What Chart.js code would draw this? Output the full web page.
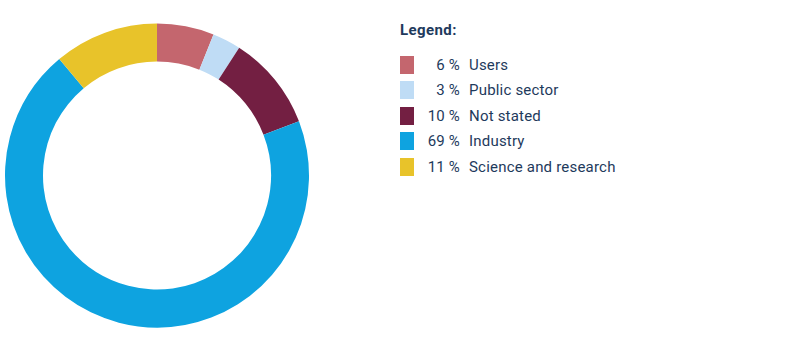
<!DOCTYPE html>
<html>
<head>
<meta charset="utf-8">
<script src="https://cdn.jsdelivr.net/npm/chart.js@4/dist/chart.umd.min.js"></script>
<style>
  body { margin: 0; background: #fff; font-family: Roboto, sans-serif; color: #1e3a5c; }
  #wrap { position: relative; width: 801px; height: 351px; }
  #chartBox { position: absolute; left: 0; top: 0; width: 314px; height: 351px; }
  #legend { position: absolute; left: 400px; top: 21px; }
  #legend h4 { margin: 0 0 13px 0; font-size: 15px; font-weight: bold; letter-spacing: 0.4px; }
  .row { display: flex; align-items: center; height: 25.5px; font-size: 15px; letter-spacing: 0.2px; }
  .sw { width: 14px; height: 18px; margin-right: 6px; }
  .pct { width: 40px; text-align: right; margin-right: 9px; }
</style>
</head>
<body>
<div id="wrap">
  <div id="chartBox"><canvas id="donut"></canvas></div>
  <div id="legend"><h4>Legend:</h4></div>
</div>
<script>
const categories = ['Users', 'Public sector', 'Not stated', 'Industry', 'Science and research'];
const shares = [6, 3, 10, 69, 11];
const colors = ['#c4666e', '#bfdcf5', '#731f42', '#0ea3e0', '#e8c32a'];

// html legend built from the same arrays
const legendEl = document.getElementById('legend');
categories.forEach((name, i) => {
    const row = document.createElement('div');
    row.className = 'row';
    row.innerHTML = '<div class="sw" style="background:' + colors[i] + '"></div>' +
        '<span class="pct">' + shares[i] + ' %</span><span>' + name + '</span>';
    legendEl.appendChild(row);
});

const ctx = document.getElementById('donut').getContext('2d');
new Chart(ctx, {
    type: 'doughnut',
    data: {
        labels: categories,
        datasets: [{
            data: shares,
            backgroundColor: colors,
            borderWidth: 0
        }]
    },
    options: {
        responsive: true,
        maintainAspectRatio: false,
        animation: false,
        cutout: '75%',
        layout: { padding: 5 },
        plugins: {
            legend: { display: false },
            tooltip: { enabled: false }
        }
    }
});
</script>
</body>
</html>
